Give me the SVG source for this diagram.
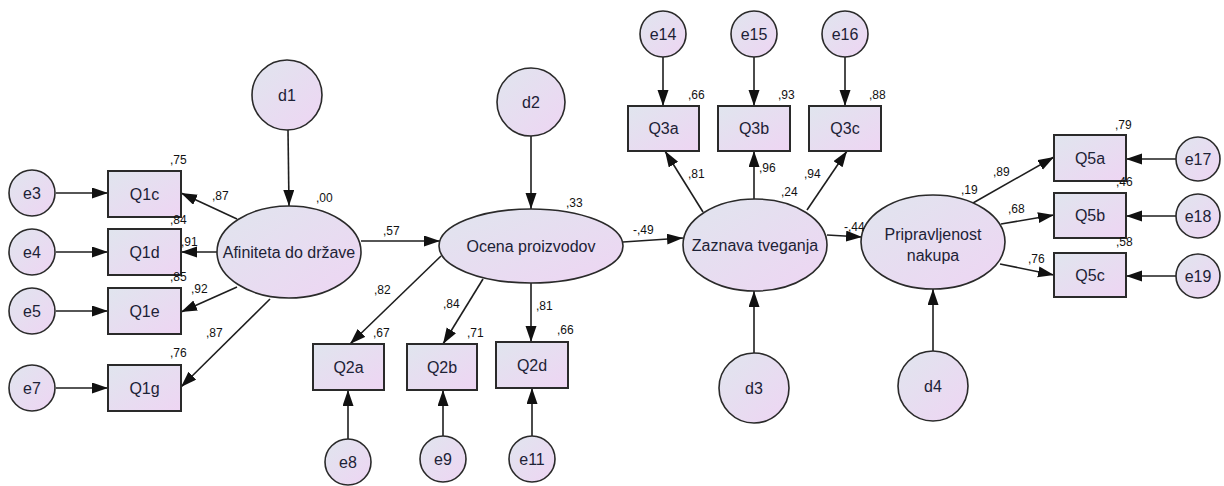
<svg xmlns="http://www.w3.org/2000/svg" width="1224" height="486" viewBox="0 0 1224 486">
  <defs>
    <linearGradient id="fillGrad" x1="0" y1="0" x2="1" y2="1">
      <stop offset="0" stop-color="#e0e5ee"/>
      <stop offset="1" stop-color="#eed5f3"/>
    </linearGradient>
    <marker id="arrow" markerUnits="userSpaceOnUse" markerWidth="17" markerHeight="12" refX="16" refY="5.5" orient="auto">
      <path d="M0,0 L16,5.5 L0,11 z" fill="#111"/>
    </marker>
  </defs>
  <style>
    .latent { fill: url(#fillGrad); stroke: #2a2a2a; stroke-width: 1.6; }
    .obs { fill: url(#fillGrad); stroke: #2a2a2a; stroke-width: 2; }
    .lbl { font-family: "Liberation Sans", Arial, sans-serif; font-size: 16px; fill: #1d2236; text-anchor: middle; }
    .num { font-family: "Liberation Sans", Arial, sans-serif; font-size: 12px; fill: #111; }
    .conn line { stroke: #1e1e1e; stroke-width: 1.6; marker-end: url(#arrow); }
  </style>
  <rect width="1224" height="486" fill="#ffffff"/>

  <!-- paths -->
  <g id="connectors" class="conn">
    <line x1="288" y1="130" x2="289" y2="206"/>
    <line x1="56" y1="193" x2="108" y2="193"/>
    <line x1="56" y1="252" x2="108" y2="252"/>
    <line x1="56" y1="311" x2="108" y2="311"/>
    <line x1="56" y1="388" x2="108" y2="388"/>
    <line x1="237" y1="219" x2="181" y2="193"/>
    <line x1="217" y1="252" x2="181" y2="252"/>
    <line x1="237" y1="287" x2="181" y2="312"/>
    <line x1="270" y1="299" x2="181" y2="387"/>
    <line x1="361" y1="241" x2="440" y2="241"/>
    <line x1="531" y1="135" x2="531" y2="209"/>
    <line x1="441" y1="256" x2="350" y2="344"/>
    <line x1="483" y1="279" x2="443" y2="344"/>
    <line x1="531" y1="283" x2="531" y2="342"/>
    <line x1="348" y1="439" x2="348" y2="390"/>
    <line x1="443" y1="436" x2="443" y2="390"/>
    <line x1="532" y1="436" x2="532" y2="388"/>
    <line x1="623" y1="242" x2="683" y2="238"/>
    <line x1="663" y1="57" x2="663" y2="106"/>
    <line x1="754" y1="57" x2="754" y2="106"/>
    <line x1="845" y1="57" x2="845" y2="106"/>
    <line x1="703" y1="212" x2="665" y2="151"/>
    <line x1="754" y1="199" x2="754" y2="151"/>
    <line x1="807" y1="210" x2="847" y2="151"/>
    <line x1="754" y1="353" x2="754" y2="291"/>
    <line x1="827" y1="235" x2="862" y2="237"/>
    <line x1="933" y1="351" x2="933" y2="289"/>
    <line x1="973" y1="203" x2="1054" y2="157"/>
    <line x1="1001" y1="224" x2="1054" y2="215"/>
    <line x1="1000" y1="264" x2="1054" y2="275"/>
    <line x1="1176" y1="159" x2="1126" y2="159"/>
    <line x1="1176" y1="216" x2="1126" y2="216"/>
    <line x1="1176" y1="276" x2="1126" y2="276"/>
  </g>

  <!-- latent variables -->
  <g id="afiniteta"><ellipse class="latent" cx="289" cy="252" rx="72" ry="46"/><text class="lbl" x="289" y="258">Afiniteta do države</text></g>
  <g id="ocena"><ellipse class="latent" cx="531" cy="246" rx="92" ry="37"/><text class="lbl" x="531" y="252">Ocena proizvodov</text></g>
  <g id="zaznava"><ellipse class="latent" cx="755" cy="245" rx="72" ry="46"/><text class="lbl" x="755" y="251">Zaznava tveganja</text></g>
  <g id="pripravljenost"><ellipse class="latent" cx="933" cy="242" rx="72" ry="47"/><text class="lbl" x="933" y="240">Pripravljenost</text><text class="lbl" x="933" y="261">nakupa</text></g>

  <!-- disturbances -->
  <g id="d1"><circle class="latent" cx="287" cy="95" r="35"/><text class="lbl" x="287" y="101">d1</text></g>
  <g id="d2"><circle class="latent" cx="531" cy="102" r="34"/><text class="lbl" x="531" y="108">d2</text></g>
  <g id="d3"><circle class="latent" cx="754" cy="388" r="35"/><text class="lbl" x="754" y="394">d3</text></g>
  <g id="d4"><circle class="latent" cx="933" cy="386" r="35"/><text class="lbl" x="933" y="392">d4</text></g>

  <!-- error terms -->
  <g id="e3"><circle class="latent" cx="32" cy="193" r="23"/><text class="lbl" x="32" y="199">e3</text></g>
  <g id="e4"><circle class="latent" cx="32" cy="252" r="23"/><text class="lbl" x="32" y="258">e4</text></g>
  <g id="e5"><circle class="latent" cx="32" cy="311" r="23"/><text class="lbl" x="32" y="317">e5</text></g>
  <g id="e7"><circle class="latent" cx="32" cy="388" r="23"/><text class="lbl" x="32" y="394">e7</text></g>
  <g id="e8"><circle class="latent" cx="348" cy="462" r="23"/><text class="lbl" x="348" y="468">e8</text></g>
  <g id="e9"><circle class="latent" cx="443" cy="459" r="23"/><text class="lbl" x="443" y="465">e9</text></g>
  <g id="e11"><circle class="latent" cx="532" cy="459" r="23"/><text class="lbl" x="532" y="465">e11</text></g>
  <g id="e14"><circle class="latent" cx="663" cy="34" r="23"/><text class="lbl" x="663" y="40">e14</text></g>
  <g id="e15"><circle class="latent" cx="754" cy="34" r="23"/><text class="lbl" x="754" y="40">e15</text></g>
  <g id="e16"><circle class="latent" cx="845" cy="34" r="23"/><text class="lbl" x="845" y="40">e16</text></g>
  <g id="e17"><circle class="latent" cx="1198" cy="159" r="22"/><text class="lbl" x="1198" y="165">e17</text></g>
  <g id="e18"><circle class="latent" cx="1198" cy="216" r="22"/><text class="lbl" x="1198" y="222">e18</text></g>
  <g id="e19"><circle class="latent" cx="1198" cy="276" r="22"/><text class="lbl" x="1198" y="282">e19</text></g>

  <!-- observed indicators -->
  <g id="Q1c"><rect class="obs" x="108" y="171" width="73" height="46"/><text class="lbl" x="144.5" y="200">Q1c</text></g>
  <g id="Q1d"><rect class="obs" x="108" y="229" width="73" height="46"/><text class="lbl" x="144.5" y="258">Q1d</text></g>
  <g id="Q1e"><rect class="obs" x="108" y="288" width="73" height="46"/><text class="lbl" x="144.5" y="317">Q1e</text></g>
  <g id="Q1g"><rect class="obs" x="108" y="365" width="73" height="46"/><text class="lbl" x="144.5" y="394">Q1g</text></g>
  <g id="Q2a"><rect class="obs" x="313" y="344" width="71" height="46"/><text class="lbl" x="348.5" y="373">Q2a</text></g>
  <g id="Q2b"><rect class="obs" x="407" y="344" width="70" height="46"/><text class="lbl" x="442" y="373">Q2b</text></g>
  <g id="Q2d"><rect class="obs" x="496" y="342" width="72" height="46"/><text class="lbl" x="532" y="371">Q2d</text></g>
  <g id="Q3a"><rect class="obs" x="628" y="106" width="71" height="45"/><text class="lbl" x="663.5" y="134">Q3a</text></g>
  <g id="Q3b"><rect class="obs" x="718" y="106" width="72" height="45"/><text class="lbl" x="754" y="134">Q3b</text></g>
  <g id="Q3c"><rect class="obs" x="809" y="106" width="72" height="45"/><text class="lbl" x="845" y="134">Q3c</text></g>
  <g id="Q5a"><rect class="obs" x="1054" y="135" width="72" height="46"/><text class="lbl" x="1090" y="164">Q5a</text></g>
  <g id="Q5b"><rect class="obs" x="1054" y="193" width="72" height="45"/><text class="lbl" x="1090" y="221">Q5b</text></g>
  <g id="Q5c"><rect class="obs" x="1054" y="253" width="72" height="44"/><text class="lbl" x="1090" y="281">Q5c</text></g>

  <!-- estimates -->
  <g id="estimates" class="num">
    <text x="170" y="164">,75</text>
    <text x="212" y="200">,87</text>
    <text x="316" y="202">,00</text>
    <text x="170" y="224">,84</text>
    <text x="181" y="246">,91</text>
    <text x="170" y="281">,85</text>
    <text x="191" y="293">,92</text>
    <text x="206" y="337">,87</text>
    <text x="170" y="357">,76</text>
    <text x="383" y="235">,57</text>
    <text x="566" y="207">,33</text>
    <text x="374" y="294">,82</text>
    <text x="443" y="308">,84</text>
    <text x="536" y="310">,81</text>
    <text x="373" y="337">,67</text>
    <text x="467" y="337">,71</text>
    <text x="557" y="334">,66</text>
    <text x="688" y="99">,66</text>
    <text x="778" y="99">,93</text>
    <text x="869" y="99">,88</text>
    <text x="688" y="178">,81</text>
    <text x="759" y="172">,96</text>
    <text x="804" y="178">,94</text>
    <text x="781" y="196">,24</text>
    <text x="633" y="234">-,49</text>
    <text x="844" y="231">-,44</text>
    <text x="1115" y="129">,79</text>
    <text x="1116" y="186">,46</text>
    <text x="1116" y="246">,58</text>
    <text x="993" y="176">,89</text>
    <text x="961" y="194">,19</text>
    <text x="1008" y="213">,68</text>
    <text x="1028" y="263">,76</text>
  </g>
</svg>
